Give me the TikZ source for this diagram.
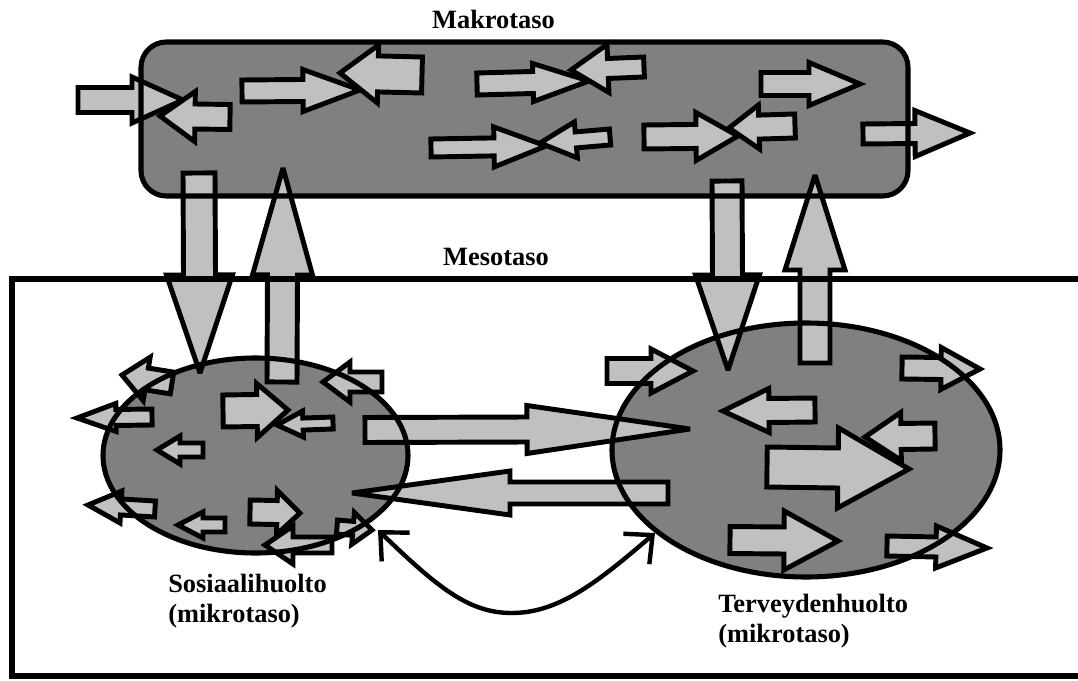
\documentclass[tikz,border=0pt]{standalone}
\usepackage{fontspec}
\setmainfont{Liberation Serif}
\usetikzlibrary{arrows.meta}

\definecolor{levelgray}{HTML}{808080}
\definecolor{flowgray}{HTML}{C0C0C0}

\tikzset{
  flow/.style={fill=flowgray, draw=black, line width=3.7pt, line join=miter, miter limit=3},
  levelfill/.style={fill=levelgray, draw=none},
  leveledge/.style={draw=black, line width=3.8pt},
  tie/.style={draw=black, line width=3.3pt, line cap=round,
    {Straight Barb[length=16pt, width=30pt, line width=3.3pt]}-{Straight Barb[length=16pt, width=30pt, line width=3.3pt]}},
  label/.style={font=\fontsize{19.8}{22.5}\selectfont\bfseries, inner sep=0pt},
}

% block arrow: tail x, tail y, tip x, tip y, stem half width, head half width, head length
\newcommand\flowarrow[7]{%
  \pgfmathsetmacro\fdx{#3-#1}%
  \pgfmathsetmacro\fdy{#2-#4}%
  \pgfmathsetmacro\flen{veclen(\fdx,\fdy)}%
  \pgfmathsetmacro\fang{atan2(\fdy,\fdx)}%
  \pgfmathsetmacro\fbase{\flen-#7}%
  \begin{scope}[shift={(#1,#2)},rotate=\fang]
    \draw[flow] (0,-#5) -- (\fbase,-#5) -- (\fbase,-#6) -- (\flen,0)
      -- (\fbase,#6) -- (\fbase,#5) -- (0,#5) -- cycle;
  \end{scope}}

\begin{document}
\begin{tikzpicture}[x=0.75pt,y=-0.75pt]
\useasboundingbox (0,0) rectangle (1078,681);

% level areas (fills)
\fill[levelfill, rounded corners=19pt] (141,42) rectangle (908,196);
\fill[levelfill] (255.5,455.5) ellipse [x radius=152.5, y radius=97.5];
\fill[levelfill] (806,450) ellipse [x radius=194, y radius=127];

% flows inside the macro level
\flowarrow{78}{100}{183}{100}{12.5}{23}{51}
\flowarrow{230}{117}{160}{116}{12.5}{25}{35}
\flowarrow{242}{91}{360}{90}{11}{21}{57}
\flowarrow{422}{75}{340}{73}{18}{29}{38}
\flowarrow{477}{84}{589}{81}{11}{19}{56}
\flowarrow{644}{67}{571}{70}{10}{24}{37}
\flowarrow{431}{148}{546}{146}{9}{20}{52}
\flowarrow{610}{137}{540}{143}{8}{18}{36}
\flowarrow{644}{137}{738}{136}{12}{24}{42}
\flowarrow{795}{126}{729}{128}{12}{22}{30}
\flowarrow{761}{84}{860}{84}{11.5}{21.5}{51}
\flowarrow{863}{134}{970}{133}{10}{23}{55}

% flows between the levels
\flowarrow{199}{173}{200}{373}{16}{33}{98}
\flowarrow{282}{382}{283}{168}{15}{30}{107}
\flowarrow{727}{181}{728}{370}{15}{32}{95}
\flowarrow{815}{363}{815}{175}{15}{30}{95}

% flows between the two micro levels
\flowarrow{365}{430}{690}{429}{12.5}{24}{163}
\flowarrow{668}{493}{352}{493}{11}{22}{158}

% flows in social care
\flowarrow{172}{383}{122}{375}{11}{22}{25}
\flowarrow{152}{417}{77}{418}{8}{14}{39}
\flowarrow{223}{411}{288}{410}{16}{27}{31}
\flowarrow{333}{423}{277}{425}{6}{13}{26}
\flowarrow{382}{382}{323}{382}{10}{20}{27}
\flowarrow{203}{450}{157}{450}{7}{14}{23}
\flowarrow{155}{509}{88}{505}{8}{16}{33}
\flowarrow{225}{525}{178}{525}{7}{13}{25}
\flowarrow{250}{512}{300}{513}{12}{22}{23}
\flowarrow{332}{545}{265}{545}{8}{19}{28}
\flowarrow{337}{527}{372}{530}{7}{16}{19}

% flows in health care
\flowarrow{607}{371}{693}{371}{12.5}{22}{42}
\flowarrow{902}{368}{980}{369}{11}{21}{39}
\flowarrow{815}{410}{723}{411}{12}{22}{46}
\flowarrow{935}{436}{865}{437}{13}{24}{36}
\flowarrow{767}{467}{909}{469}{20}{40}{71}
\flowarrow{730}{540}{838}{541}{13.5}{29.5}{54}
\flowarrow{887}{546}{987}{548}{10}{21}{51}

% level outlines
\draw[leveledge, rounded corners=19pt] (141,42) rectangle (908,196);
\draw[leveledge] (1078,279) -- (12,279) -- (12,676) -- (1078,676);
\draw[leveledge] (255.5,455.5) ellipse [x radius=152.5, y radius=97.5];
\draw[leveledge] (806,450) ellipse [x radius=194, y radius=127];

% two-way link below the micro levels
\coordinate (tieL) at (378,530);
\coordinate (tieB) at (512,613);
\coordinate (tieR) at (655,533);
\draw[tie] (tieL) .. controls (440,590) and (470,613) .. (tieB)
  .. controls (560,613) and (600,580) .. (tieR);

% labels
\node[label, anchor=base] (makro) at (493.5,29) {Makrotaso};
\node[label, anchor=base] (meso) at (496,265) {Mesotaso};
\node[label, anchor=north west, align=left] (sos) at (168,574) {Sosiaalihuolto\\(mikrotaso)};
\node[label, anchor=north west, align=left] (ter) at (718,594) {Terveydenhuolto\\(mikrotaso)};
\end{tikzpicture}
\end{document}
